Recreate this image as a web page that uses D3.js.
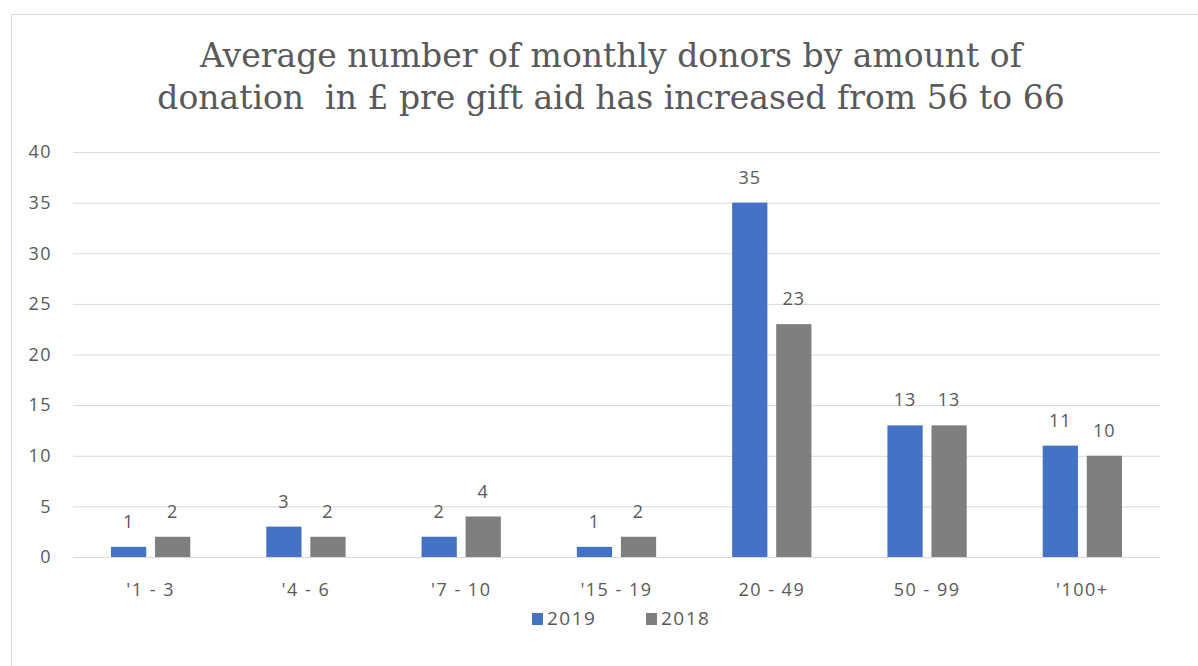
<!DOCTYPE html>
<html>
<head>
<meta charset="utf-8">
<script src="https://cdn.jsdelivr.net/npm/d3@7"></script>
<style>
  body { margin: 0; background: #fff; }
  svg { display: block; }
</style>
</head>
<body>
<div id="chart"></div>
<script>
const categories = ["'1 - 3", "'4 - 6", "'7 - 10", "'15 - 19", "20 - 49", "50 - 99", "'100+"];
const series = ["2019", "2018"];
const values2019 = [1, 3, 2, 1, 35, 13, 11];
const values2018 = [2, 2, 4, 2, 23, 13, 10];
const yTicks = [0, 5, 10, 15, 20, 25, 30, 35, 40];
const titleLines = [
  "Average number of monthly donors by amount of",
  "donation  in £ pre gift aid has increased from 56 to 66"
];

const width = 1198;
const height = 666;
const plotLeft = 73, plotRight = 1160, plotTop = 152, plotBottom = 557;
const colors = { "2019": "#4472C4", "2018": "#7F7F7F" };
const textColor = "#595959";
const font = "'Open Sans', sans-serif";

const svg = d3.select("#chart")
  .append("svg")
  .attr("width", width)
  .attr("height", height);

svg.append("rect")
  .attr("width", width)
  .attr("height", height)
  .attr("fill", "#fff");

// chart frame
svg.append("rect")
  .attr("x", 11.5)
  .attr("y", 14.5)
  .attr("width", 1300)
  .attr("height", 800)
  .attr("fill", "none")
  .attr("stroke", "#D9D9D9");

// title
svg.append("g")
  .selectAll("text")
  .data(titleLines)
  .enter()
  .append("text")
  .attr("x", 611)
  .attr("y", (d, i) => 67 + i * 42)
  .attr("text-anchor", "middle")
  .attr("font-family", "'DejaVu Serif', serif")
  .attr("font-size", 33)
  .attr("fill", textColor)
  .style("white-space", "pre")
  .text(d => d);

const yScale = d3.scaleLinear()
  .domain([0, 40])
  .range([plotBottom, plotTop]);

const xScale = d3.scaleBand()
  .domain(categories)
  .range([plotLeft, plotRight]);

const inset = 38;
const xInner = d3.scaleBand()
  .domain(series)
  .range([inset, xScale.bandwidth() - inset])
  .paddingInner(0.2);

// y axis + gridlines
const yAxis = d3.axisLeft(yScale)
  .tickValues(yTicks)
  .tickSize(-(plotRight - plotLeft))
  .tickPadding(21);

const yG = svg.append("g")
  .attr("id", "y-axis")
  .attr("transform", `translate(${plotLeft}, 0)`)
  .call(yAxis);

yG.select(".domain").remove();
yG.selectAll(".tick line").attr("stroke", "#D9D9D9");
yG.selectAll(".tick text")
  .attr("fill", textColor)
  .attr("font-family", font)
  .attr("font-size", 18)
  .attr("letter-spacing", 1.5);

// x axis labels
const xAxis = d3.axisBottom(xScale).tickSize(0).tickPadding(0);
const xG = svg.append("g")
  .attr("id", "x-axis")
  .attr("transform", `translate(0, ${plotBottom})`)
  .call(xAxis);
xG.select(".domain").remove();
xG.selectAll(".tick text")
  .attr("y", 39)
  .attr("dy", 0)
  .attr("fill", textColor)
  .attr("font-family", font)
  .attr("font-size", 18)
  .attr("letter-spacing", 1.5);

// bars
const rows = categories.map((c, i) => ({
  category: c,
  values: [
    { key: "2019", value: values2019[i] },
    { key: "2018", value: values2018[i] }
  ]
}));

const groups = svg.selectAll(".group")
  .data(rows)
  .enter()
  .append("g")
  .attr("class", "group")
  .attr("transform", d => `translate(${xScale(d.category)}, 0)`);

groups.selectAll("rect")
  .data(d => d.values)
  .enter()
  .append("rect")
  .attr("x", d => xInner(d.key))
  .attr("y", d => yScale(d.value))
  .attr("width", xInner.bandwidth())
  .attr("height", d => plotBottom - yScale(d.value))
  .attr("fill", d => colors[d.key]);

groups.selectAll(".label")
  .data(d => d.values)
  .enter()
  .append("text")
  .attr("class", "label")
  .attr("x", d => xInner(d.key) + xInner.bandwidth() / 2)
  .attr("y", d => yScale(d.value) - 19)
  .attr("text-anchor", "middle")
  .attr("fill", textColor)
  .attr("font-family", font)
  .attr("font-size", 18)
  .attr("letter-spacing", 1)
  .text(d => d.value);

// legend
const legendX = [532, 646];
const legend = svg.selectAll(".legend")
  .data(series)
  .enter()
  .append("g")
  .attr("class", "legend")
  .attr("transform", (d, i) => `translate(${legendX[i]}, 613)`);

legend.append("rect")
  .attr("width", 11)
  .attr("height", 12)
  .attr("fill", d => colors[d]);

legend.append("text")
  .attr("x", 15)
  .attr("y", 12)
  .attr("fill", textColor)
  .attr("font-family", font)
  .attr("font-size", 19)
  .attr("letter-spacing", 1.5)
  .text(d => d);
</script>
</body>
</html>
